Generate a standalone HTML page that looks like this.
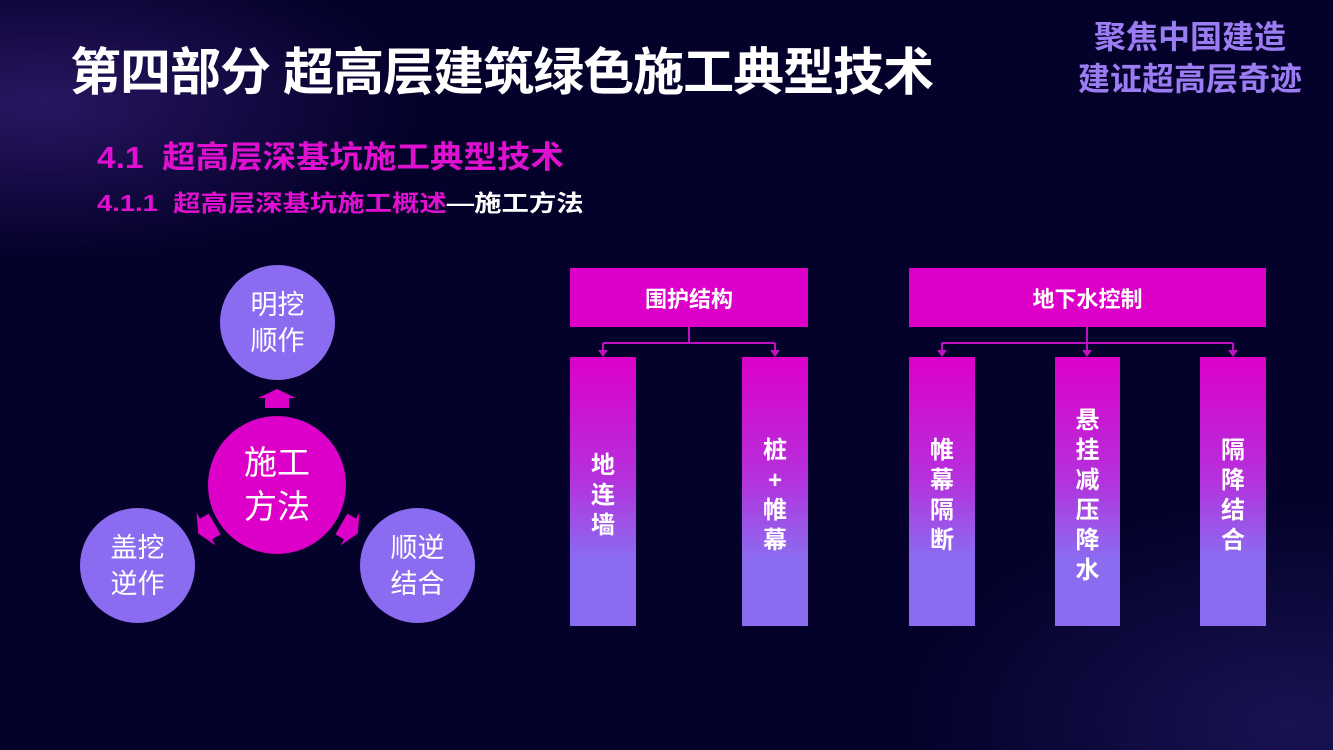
<!DOCTYPE html>
<html><head><meta charset="utf-8"><style>
body{margin:0;width:1333px;height:750px;overflow:hidden;background:#04012a;font-family:"Liberation Sans","Noto Sans CJK SC",sans-serif;position:relative}
.a{position:absolute}
.c{position:absolute;border-radius:50%;background:#8b6cf0;color:#fff;display:flex;align-items:center;justify-content:center;text-align:center;font-size:27px;line-height:36px}
.h{position:absolute;background:#dc00c8;color:#fff;font-weight:bold;font-size:22px;display:flex;align-items:center;justify-content:center;height:59px;top:268px}
.col{position:absolute;top:357px;height:269px;background:linear-gradient(#dc00c8,#b530dc 45%,#8b6cf0 75%,#8b6cf0);color:#fff;font-weight:bold;font-size:24px;display:flex;align-items:center;justify-content:center;text-align:center;line-height:30px;padding-top:8px;box-sizing:border-box}
</style></head><body>
<div class="a" style="left:0;top:0;width:420px;height:260px;background:radial-gradient(ellipse at 10% 40%,rgba(110,60,200,0.35),rgba(0,0,0,0) 70%)"></div>
<div class="a" style="left:900px;top:500px;width:433px;height:250px;background:radial-gradient(ellipse at 90% 90%,rgba(90,70,200,0.25),rgba(0,0,0,0) 70%)"></div>
<div class="a" style="left:70px;top:31px;color:#fff;font-size:51px;font-weight:bold;white-space:nowrap;letter-spacing:-1px">第四部分 超高层建筑绿色施工典型技术</div>
<div class="a" style="left:1060px;top:16px;width:260px;text-align:center;color:#9b7cf2;font-size:32px;font-weight:bold;line-height:42px">聚焦中国建造<br>建证超高层奇迹</div>
<div class="a" style="left:97px;top:132px;color:#e010d0;font-size:31px;font-weight:bold;white-space:nowrap;transform-origin:0 0;transform:scaleX(1.08)">4.1&nbsp; 超高层深基坑施工典型技术</div>
<div class="a" style="left:97px;top:184px;color:#e010d0;font-size:23px;font-weight:bold;white-space:nowrap;transform-origin:0 0;transform:scaleX(1.19)">4.1.1&nbsp; 超高层深基坑施工概述<span style="color:#fff">—施工方法</span></div>

<div class="c" style="left:220px;top:265px;width:115px;height:115px">明挖<br>顺作</div>
<div class="c" style="left:80px;top:508px;width:115px;height:115px">盖挖<br>逆作</div>
<div class="c" style="left:360px;top:508px;width:115px;height:115px">顺逆<br>结合</div>
<div class="c" style="left:208px;top:416px;width:138px;height:138px;background:#dc00c8;font-size:33px;line-height:44px">施工<br>方法</div>
<svg class="a" style="left:0;top:0" width="1333" height="750">
<polygon points="258,398 277,389 296,398 289,398 289,408 265,408 265,398" fill="#dc00c8"/>
<g transform="translate(206,529) rotate(-120)"><polygon points="-19,0 0,-9 19,0 12,0 12,10 -12,10 -12,0" fill="#dc00c8"/></g>
<g transform="translate(350,529) rotate(120)"><polygon points="-19,0 0,-9 19,0 12,0 12,10 -12,10 -12,0" fill="#dc00c8"/></g>
<g stroke="#c010c0" stroke-width="2" fill="none">
<path d="M689 327V343M603 343H775M603 343V352M775 343V352"/>
<path d="M1087 327V352M942 343H1233M942 343V352M1233 343V352"/>
</g>
<g fill="#c010c0">
<polygon points="598,350 608,350 603,357"/><polygon points="770,350 780,350 775,357"/>
<polygon points="937,350 947,350 942,357"/><polygon points="1082,350 1092,350 1087,357"/><polygon points="1228,350 1238,350 1233,357"/>
</g>
</svg>
<div class="h" style="left:570px;width:238px">围护结构</div>
<div class="h" style="left:909px;width:357px">地下水控制</div>
<div class="col" style="left:570px;width:66px">地<br>连<br>墙</div>
<div class="col" style="left:742px;width:66px">桩<br>+<br>帷<br>幕</div>
<div class="col" style="left:909px;width:66px">帷<br>幕<br>隔<br>断</div>
<div class="col" style="left:1055px;width:65px">悬<br>挂<br>减<br>压<br>降<br>水</div>
<div class="col" style="left:1200px;width:66px">隔<br>降<br>结<br>合</div>
</body></html>
